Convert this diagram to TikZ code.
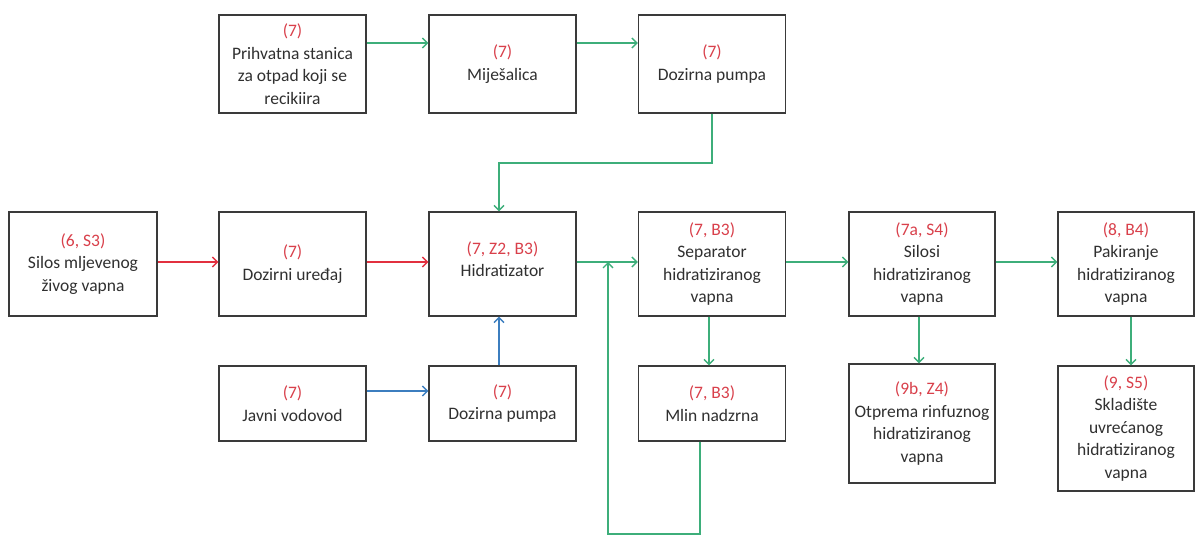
\documentclass[tikz,border=0pt]{standalone}
\usepackage{fontspec}
\setmainfont{Carlito}
\usetikzlibrary{arrows.meta}
\definecolor{gline}{HTML}{3DAE7A}
\definecolor{rline}{HTML}{E2303F}
\definecolor{bline}{HTML}{3C7EBF}
\definecolor{lbl}{HTML}{D9404B}
\definecolor{txt}{HTML}{303030}
\definecolor{bord}{HTML}{3A3A3A}
\tikzset{
  blk/.style={draw=bord, line width=1.4pt, fill=white, align=center, inner sep=0pt,
    text=txt, font=\fontsize{17.5}{22.5}\selectfont},
  conn/.style={line width=1.3pt, -{Straight Barb[length=5pt,width=10pt,line width=1.3pt]}},
  gc/.style={conn, draw=gline},
  rc/.style={conn, draw=rline},
  bc/.style={conn, draw=bline},
}
\newcommand{\lb}[1]{\textcolor{lbl}{#1}}
\begin{document}
\begin{tikzpicture}[x=1pt,y=-1pt]
\useasboundingbox (0,0) rectangle (1195,537);
% top row
\node[blk, minimum width=147pt, minimum height=98pt] (pri) at (292.5,64) {\lb{(7)}\\Prihvatna stanica\\za otpad koji se\\recikiira};
\node[blk, minimum width=147pt, minimum height=98pt] (mij) at (502.5,64) {\lb{(7)}\\Miješalica};
\node[blk, minimum width=147pt, minimum height=98pt] (dp1) at (712,64) {\lb{(7)}\\Dozirna pumpa};
% middle row
\node[blk, minimum width=148pt, minimum height=104pt] (sil) at (83,264) {\lb{(6, S3)}\\Silos mljevenog\\živog vapna};
\node[blk, minimum width=147pt, minimum height=104pt] (dzu) at (292.5,264) {\lb{(7)}\\Dozirni uređaj};
\node[blk, minimum width=147pt, minimum height=104pt] (hid) at (502.5,264) {};
\node[align=center, inner sep=0pt, text=txt, font=\fontsize{17.5}{22.5}\selectfont] (hidt) at (502.5,259) {\lb{(7, Z2, B3)}\\Hidratizator};
\node[blk, minimum width=147pt, minimum height=104pt] (sep) at (712,264) {\lb{(7, B3)}\\Separator\\hidratiziranog\\vapna};
\node[blk, minimum width=146pt, minimum height=104pt] (sli) at (922,264) {\lb{(7a, S4)}\\Silosi\\hidratiziranog\\vapna};
\node[blk, minimum width=136pt, minimum height=104pt] (pak) at (1126,264) {\lb{(8, B4)}\\Pakiranje\\hidratiziranog\\vapna};
% bottom row
\node[blk, minimum width=147pt, minimum height=75pt] (jav) at (292.5,403.5) {\lb{(7)}\\Javni vodovod};
\node[blk, minimum width=147pt, minimum height=75pt] (dp2) at (502.5,403.5) {\lb{(7)}\\Dozirna pumpa};
\node[blk, minimum width=147pt, minimum height=75pt] (mln) at (712,403.5) {\lb{(7, B3)}\\Mlin nadzrna};
\node[blk, minimum width=146pt, minimum height=119pt] (otp) at (922,423.5) {\lb{(9b, Z4)}\\Otprema rinfuznog\\hidratiziranog\\vapna};
\node[blk, minimum width=136pt, minimum height=125pt] (skl) at (1126,428.5) {\lb{(9, S5)}\\Skladište\\uvrećanog\\hidratiziranog\\vapna};
% coordinates
\coordinate (k1) at (499,163);
\coordinate (fb1) at (700,534);
\coordinate (fb2) at (608,534);
\coordinate (fb3) at (608,262);
% connectors
\draw[gc] ([yshift=21pt]pri.east) -- ([yshift=21pt]mij.west);
\draw[gc] ([yshift=21pt]mij.east) -- ([yshift=21pt]dp1.west);
\draw[gc] (dp1.south) |- (k1) -- ([xshift=-3.5pt]hid.north);
\draw[rc] ([yshift=2pt]sil.east) -- ([yshift=2pt]dzu.west);
\draw[rc] ([yshift=2pt]dzu.east) -- ([yshift=2pt]hid.west);
\draw[bc] ([yshift=12.5pt]jav.east) -- ([yshift=12.5pt]dp2.west);
\draw[bc] ([xshift=-3.5pt]dp2.north) -- ([xshift=-3.5pt]hid.south);
\draw[gc] ([yshift=2pt]hid.east) -- ([yshift=2pt]sep.west);
\draw[gc] ([xshift=-3pt]sep.south) -- ([xshift=-3pt]mln.north);
\draw[gc] ([xshift=-12pt]mln.south) -- (fb1) -- (fb2) -- (fb3);
\draw[gc] ([yshift=2pt]sep.east) -- ([yshift=2pt]sli.west);
\draw[gc] ([yshift=2pt]sli.east) -- ([yshift=2pt]pak.west);
\draw[gc] ([xshift=-3pt]sli.south) -- ([xshift=-3pt]otp.north);
\draw[gc] ([xshift=5pt]pak.south) -- ([xshift=5pt]skl.north);
\end{tikzpicture}
\end{document}
